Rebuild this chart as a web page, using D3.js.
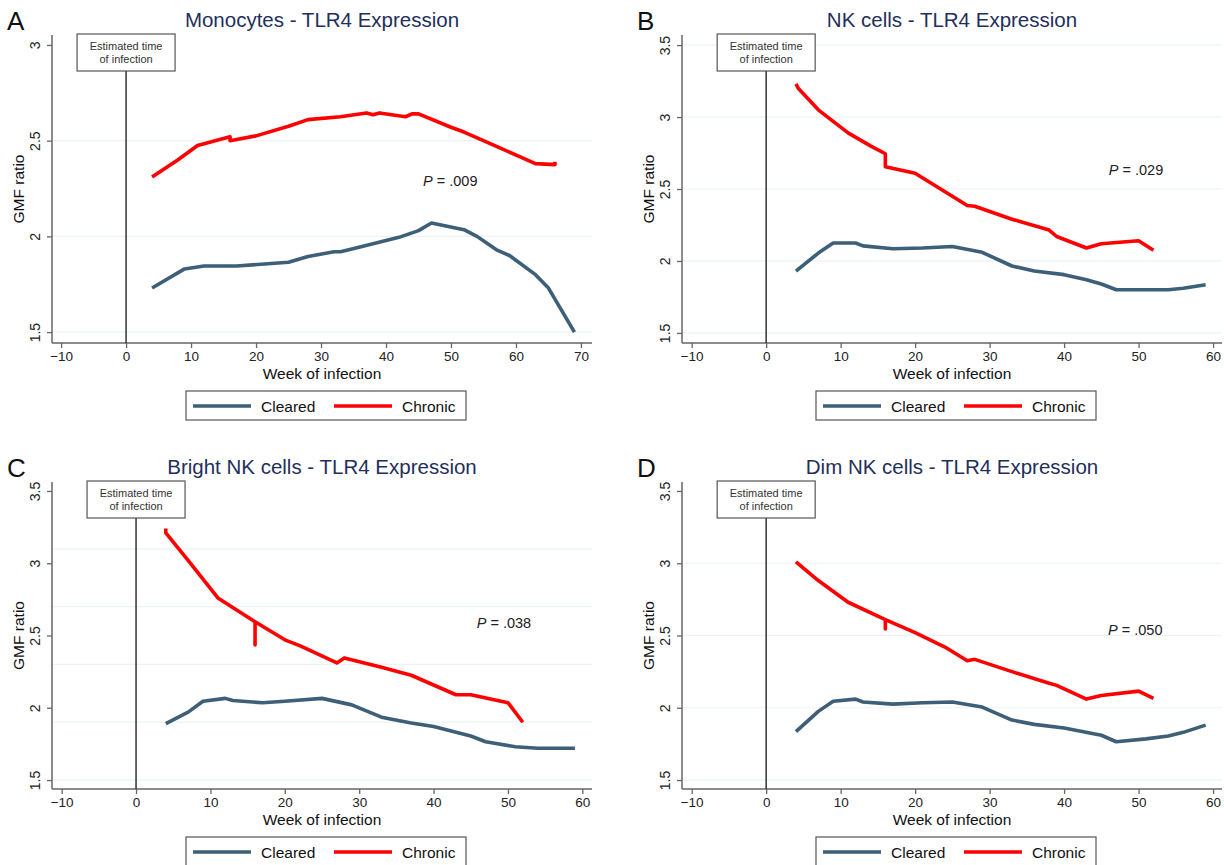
<!DOCTYPE html>
<html>
<head>
<meta charset="utf-8">
<script src="https://cdn.jsdelivr.net/npm/d3@7"></script>
<style>
  body { margin: 0; background: #fff; }
  svg { display: block; font-family: "Liberation Sans", Arial, sans-serif; }
</style>
</head>
<body>
<svg id="chart" width="1224" height="865"></svg>
<script>
// ---- data ----
const panelLetters = ['A', 'B', 'C', 'D'];
const panelTitles = [
  'Monocytes - TLR4 Expression',
  'NK cells - TLR4 Expression',
  'Bright NK cells - TLR4 Expression',
  'Dim NK cells - TLR4 Expression'
];
const pValues = ['.009', '.029', '.038', '.050'];
const pPositions = [[45.7, 2.29], [46, 2.63], [45.8, 2.585], [45.9, 2.54]]; // [week, ratio] of label start

const xTicksA = [-10, 0, 10, 20, 30, 40, 50, 60, 70];
const xTicksBCD = [-10, 0, 10, 20, 30, 40, 50, 60];
const yTicksA = [1.5, 2, 2.5, 3];
const yTicksBCD = [1.5, 2, 2.5, 3, 3.5];
const gridA = [1.5, 2, 2.5];
const gridB = [1.5, 2, 2.5, 3, 3.5];
const gridC = [1.5, 1.9, 2.3, 2.7, 3.1];
const gridD = [1.5, 2, 2.5, 3];

const seriesNames = ['Cleared', 'Chronic'];

const clearedA = [[4,1.73],[9,1.83],[12,1.845],[17,1.845],[25,1.865],[28,1.895],[32,1.92],[33,1.92],[36,1.945],[42,1.995],[45,2.03],[47,2.07],[52,2.035],[54,2.0],[57,1.93],[59,1.9],[63,1.80],[65,1.73],[69,1.50]];
const chronicA = [[4,2.31],[8,2.40],[11,2.475],[16,2.52],[16,2.50],[20,2.525],[25,2.575],[28,2.61],[33,2.625],[37,2.645],[38,2.635],[39,2.645],[43,2.625],[44,2.64],[45,2.64],[50,2.57],[52,2.545],[57,2.47],[63,2.38],[66,2.375],[66,2.39]];

const clearedB = [[4,1.93],[7,2.055],[9,2.125],[12,2.125],[13,2.105],[17,2.085],[21,2.09],[25,2.1],[29,2.06],[33,1.965],[36,1.93],[40,1.905],[43,1.87],[45,1.84],[47,1.8],[54,1.8],[56,1.81],[59,1.835]];
const chronicB = [[4,3.23],[4.3,3.2],[7,3.05],[11,2.89],[14,2.8],[16,2.745],[16,2.655],[20,2.61],[27,2.385],[28,2.38],[33,2.29],[38,2.215],[39,2.17],[43,2.09],[45,2.12],[50,2.14],[52,2.075]];

const clearedC = [[4,1.89],[7,1.97],[9,2.045],[12,2.065],[13,2.05],[17,2.035],[20,2.045],[25,2.065],[29,2.02],[33,1.935],[37,1.895],[40,1.87],[45,1.805],[47,1.765],[51,1.73],[54,1.72],[59,1.72]];
const chronicC = [[4,3.24],[4,3.21],[7,3.02],[11,2.76],[16,2.595],[16,2.435],[16,2.595],[20,2.47],[22,2.43],[27,2.31],[28,2.345],[33,2.28],[37,2.225],[43,2.09],[45,2.09],[50,2.035],[52,1.9]];

const clearedD = [[4,1.835],[7,1.975],[9,2.045],[12,2.06],[13,2.04],[17,2.025],[21,2.035],[25,2.04],[29,2.005],[33,1.915],[36,1.885],[40,1.86],[45,1.81],[47,1.765],[51,1.785],[54,1.805],[56,1.83],[59,1.88]];
const chronicD = [[4,3.01],[7,2.88],[11,2.73],[16,2.61],[16,2.545],[16,2.61],[20,2.52],[24,2.42],[27,2.325],[28,2.335],[33,2.25],[38,2.17],[39,2.155],[43,2.06],[45,2.085],[50,2.115],[52,2.065]];

const colors = { cleared: '#3d5f78', chronic: '#ff0000', title: '#1f2f5b', axis: '#666', grid: '#edf3f5' };

// panel boxes & scale domains
const panels = [
  { box: { left: 52, right: 592, top: 35, bottom: 343 }, xDomain: [-11.4, 71.7], yDomain: [1.443, 3.052],
    xTicks: xTicksA, yTicks: yTicksA, grid: gridA, cleared: clearedA, chronic: chronicA },
  { box: { left: 682, right: 1222, top: 35, bottom: 343 }, xDomain: [-11.3, 61.2], yDomain: [1.43, 3.57],
    xTicks: xTicksBCD, yTicks: yTicksBCD, grid: gridB, cleared: clearedB, chronic: chronicB },
  { box: { left: 52, right: 592, top: 482, bottom: 789 }, xDomain: [-11.3, 61.3], yDomain: [1.438, 3.562],
    xTicks: xTicksBCD, yTicks: yTicksBCD, grid: gridC, cleared: clearedC, chronic: chronicC },
  { box: { left: 682, right: 1222, top: 482, bottom: 789 }, xDomain: [-11.3, 61.2], yDomain: [1.438, 3.562],
    xTicks: xTicksBCD, yTicks: yTicksBCD, grid: gridD, cleared: clearedD, chronic: chronicD }
];

const svg = d3.select('#chart');

panels.forEach((p, i) => {
  const b = p.box;
  const x = d3.scaleLinear(p.xDomain, [b.left, b.right]);
  const y = d3.scaleLinear(p.yDomain, [b.bottom, b.top]);
  const g = svg.append('g');
  const cx = (b.left + b.right) / 2;

  // gridlines
  g.append('g')
    .selectAll('line')
    .data(p.grid)
    .join('line')
    .attr('x1', b.left)
    .attr('x2', b.right)
    .attr('y1', (d) => y(d))
    .attr('y2', (d) => y(d))
    .attr('stroke', colors.grid)
    .attr('stroke-width', 1.2);

  // x axis
  g.append('g')
    .attr('transform', `translate(0,${b.bottom})`)
    .call(d3.axisBottom(x).tickValues(p.xTicks).tickSize(5).tickSizeOuter(0).tickPadding(3))
    .call((a) => a.select('.domain').attr('stroke', colors.axis).attr('stroke-width', 1.5)
      .attr('d', `M${b.left},0H${b.right}`))
    .call((a) => a.selectAll('.tick line').attr('stroke', colors.axis).attr('stroke-width', 1.3))
    .call((a) => a.selectAll('.tick text').attr('fill', '#222').attr('font-size', 13.5)
      .attr('font-family', '"Liberation Sans", Arial, sans-serif'));

  // y axis (labels rotated)
  g.append('g')
    .attr('transform', `translate(${b.left},0)`)
    .call(d3.axisLeft(y).tickValues(p.yTicks).tickSize(5).tickSizeOuter(0).tickFormat((d) => String(d)))
    .call((a) => a.select('.domain').attr('stroke', colors.axis).attr('stroke-width', 1.5)
      .attr('d', `M0,${b.top}V${b.bottom}`))
    .call((a) => a.selectAll('.tick line').attr('stroke', colors.axis).attr('stroke-width', 1.3))
    .call((a) => a.selectAll('.tick text')
      .attr('fill', '#222').attr('font-size', 14)
      .attr('font-family', '"Liberation Sans", Arial, sans-serif')
      .attr('x', null).attr('dy', null)
      .attr('text-anchor', 'middle')
      .attr('transform', 'translate(-12,0) rotate(-90)'));

  // axis titles
  g.append('text')
    .attr('x', cx)
    .attr('y', b.bottom + 36)
    .attr('text-anchor', 'middle')
    .attr('font-size', 15.5)
    .attr('fill', '#111')
    .text('Week of infection');
  g.append('text')
    .attr('transform', `translate(${b.left - 28},${(b.top + b.bottom) / 2}) rotate(-90)`)
    .attr('text-anchor', 'middle')
    .attr('font-size', 15.5)
    .attr('fill', '#111')
    .text('GMF ratio');

  // title & panel letter
  g.append('text')
    .attr('x', cx)
    .attr('y', b.top - 8)
    .attr('text-anchor', 'middle')
    .attr('font-size', 20.5)
    .attr('fill', colors.title)
    .text(panelTitles[i]);
  g.append('text')
    .attr('x', b.left - 45)
    .attr('y', b.top - 5)
    .attr('font-size', 26)
    .attr('fill', '#111')
    .text(panelLetters[i]);

  // estimated time of infection marker
  const x0 = x(0);
  const boxW = 98, boxH = 37;
  g.append('line')
    .attr('x1', x0).attr('x2', x0)
    .attr('y1', b.top + boxH - 1).attr('y2', b.bottom)
    .attr('stroke', '#333').attr('stroke-width', 1.5);
  g.append('rect')
    .attr('x', x0 - boxW / 2).attr('y', b.top - 1)
    .attr('width', boxW).attr('height', boxH)
    .attr('fill', '#fff').attr('stroke', '#555').attr('stroke-width', 1.2);
  const note = g.append('text')
    .attr('text-anchor', 'middle')
    .attr('font-size', 11)
    .attr('fill', '#333');
  note.append('tspan').attr('x', x0).attr('y', b.top + 15).text('Estimated time');
  note.append('tspan').attr('x', x0).attr('y', b.top + 28).text('of infection');

  // series lines
  const line = d3.line().x((d) => x(d[0])).y((d) => y(d[1]));
  g.append('path')
    .datum(p.cleared)
    .attr('d', line)
    .attr('fill', 'none')
    .attr('stroke', colors.cleared)
    .attr('stroke-width', 3.6)
    .attr('stroke-linejoin', 'round');
  g.append('path')
    .datum(p.chronic)
    .attr('d', line)
    .attr('fill', 'none')
    .attr('stroke', colors.chronic)
    .attr('stroke-width', 3.6)
    .attr('stroke-linejoin', 'round');

  // P value
  const pt = g.append('text')
    .attr('x', x(pPositions[i][0]))
    .attr('y', y(pPositions[i][1]) + 5)
    .attr('font-size', 14.5)
    .attr('fill', '#222');
  pt.append('tspan').attr('font-style', 'italic').text('P');
  pt.append('tspan').text(' = ' + pValues[i]);

  // legend
  const lg = g.append('g').attr('transform', `translate(${cx - 136},${b.bottom + 48})`);
  lg.append('rect')
    .attr('width', 280).attr('height', 29)
    .attr('fill', '#fff').attr('stroke', '#555').attr('stroke-width', 1.2);
  const items = [
    { name: seriesNames[0], color: colors.cleared, dx: 7 },
    { name: seriesNames[1], color: colors.chronic, dx: 148 }
  ];
  items.forEach((it) => {
    lg.append('line')
      .attr('x1', it.dx).attr('x2', it.dx + 58)
      .attr('y1', 15).attr('y2', 15)
      .attr('stroke', it.color).attr('stroke-width', 3.6);
    lg.append('text')
      .attr('x', it.dx + 68).attr('y', 20.5)
      .attr('font-size', 15.5)
      .attr('fill', '#111')
      .text(it.name);
  });
});
</script>
</body>
</html>
